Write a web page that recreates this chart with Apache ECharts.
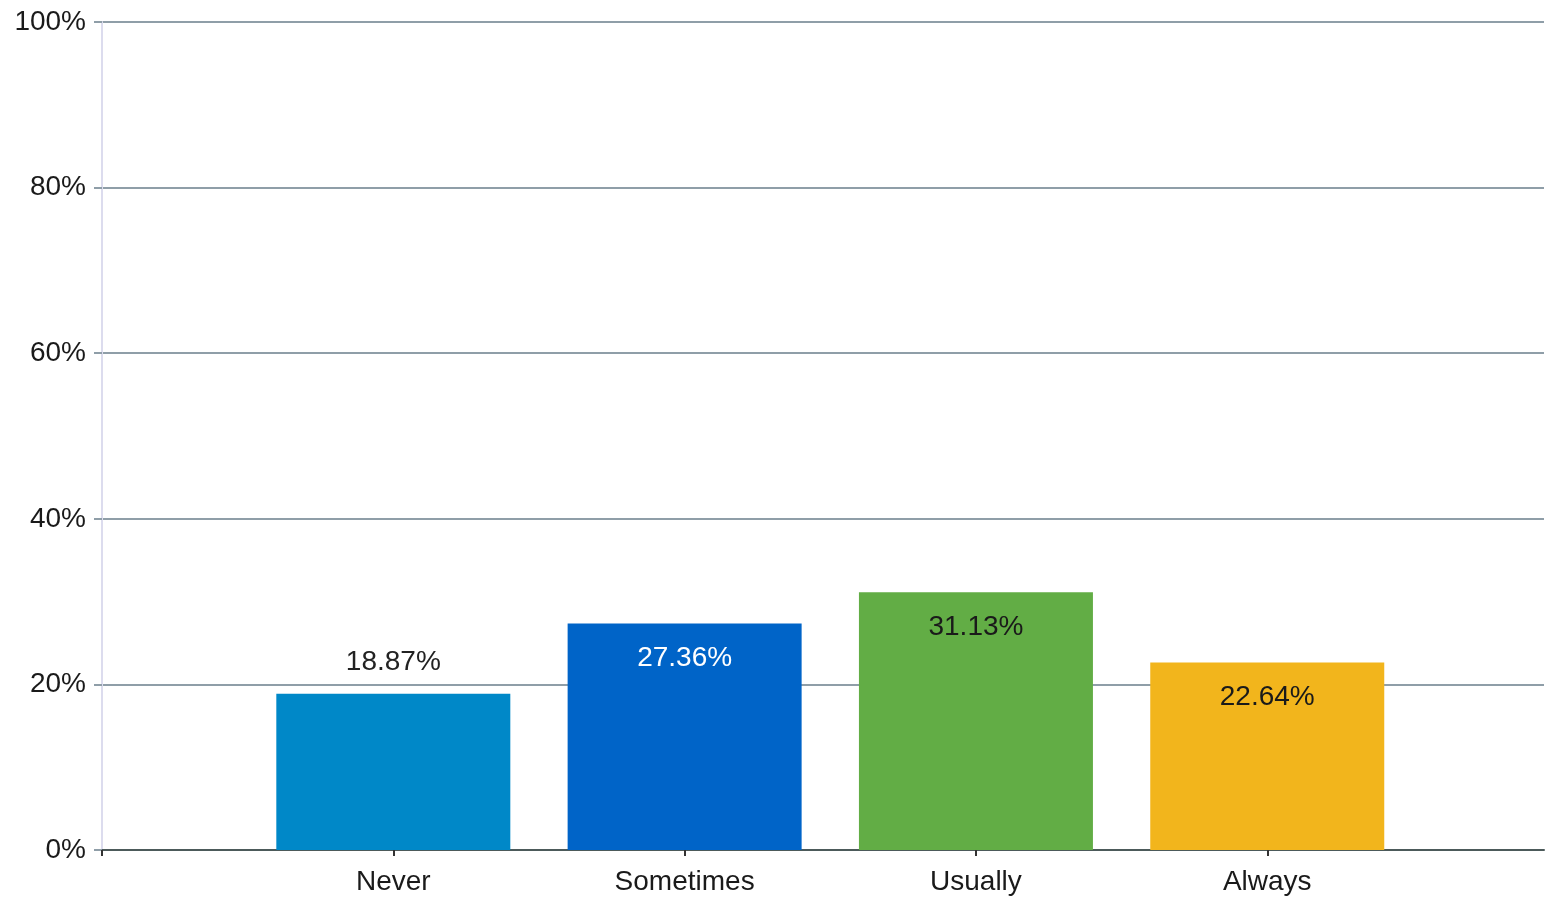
<!DOCTYPE html>
<html>
<head>
<meta charset="utf-8">
<script src="https://cdn.jsdelivr.net/npm/echarts@6/dist/echarts.min.js"></script>
<style>
  html, body { margin: 0; padding: 0; background: #fff; }
  #main { width: 1547px; height: 900px; }
</style>
</head>
<body>
<div id="main"></div>
<script>
// answers and their share of responses (%)
var categories = ['Never', 'Sometimes', 'Usually', 'Always'];
var shares = [18.87, 27.36, 31.13, 22.64];

var barColors = ['#0088c8', '#0064c8', '#62ad45', '#f2b51c'];
var labelColors = ['#222222', '#ffffff', '#1a1a1a', '#1a1a1a'];
var labelPos = ['top', 'insideTop', 'insideTop', 'insideTop'];

var font = 'Liberation Sans';

var barData = categories.map(function (c, i) {
    return {
        value: [i + 1, shares[i]],
        itemStyle: { color: barColors[i] },
        label: {
            position: labelPos[i],
            color: labelColors[i],
            distance: labelPos[i] == 'top' ? 17 : 21
        }
    };
});

var option = {
    animation: false,
    grid: { left: 102, right: 0, top: 22, bottom: 50 },
    xAxis: {
        type: 'value',
        min: 0,
        max: 4.95,   // slot after "Always" is cut off by the frame
        interval: 1,
        splitLine: { show: false },
        axisLine: { show: true, lineStyle: { color: '#4c5a5a', width: 2 } },
        axisTick: {
            show: true,
            length: 6,
            customValues: [0, 1, 2, 3, 4],
            lineStyle: { color: '#333', width: 2 }
        },
        axisLabel: {
            margin: 18,
            fontFamily: font,
            fontSize: 28,
            color: '#1a1a1a',
            formatter: function (v) { return categories[v - 1] || ''; }
        }
    },
    yAxis: {
        type: 'value',
        min: 0,
        max: 100,
        interval: 20,
        axisLine: { show: true, lineStyle: { color: '#dcdcee', width: 2 } },
        axisTick: { show: true, length: 8, lineStyle: { color: '#8f9ea8', width: 2 } },
        splitLine: { lineStyle: { color: '#8f9ea8', width: 2 } },
        axisLabel: {
            margin: 16,
            fontFamily: font,
            fontSize: 28,
            color: '#1a1a1a',
            formatter: '{value}%'
        }
    },
    series: [
        {
            type: 'bar',
            barWidth: 234,
            data: barData,
            label: {
                show: true,
                fontFamily: font,
                fontSize: 28,
                formatter: function (p) { return p.value[1].toFixed(2) + '%'; }
            }
        }
    ]
};

var myChart = echarts.init(document.getElementById('main'));
myChart.setOption(option);
</script>
</body>
</html>
